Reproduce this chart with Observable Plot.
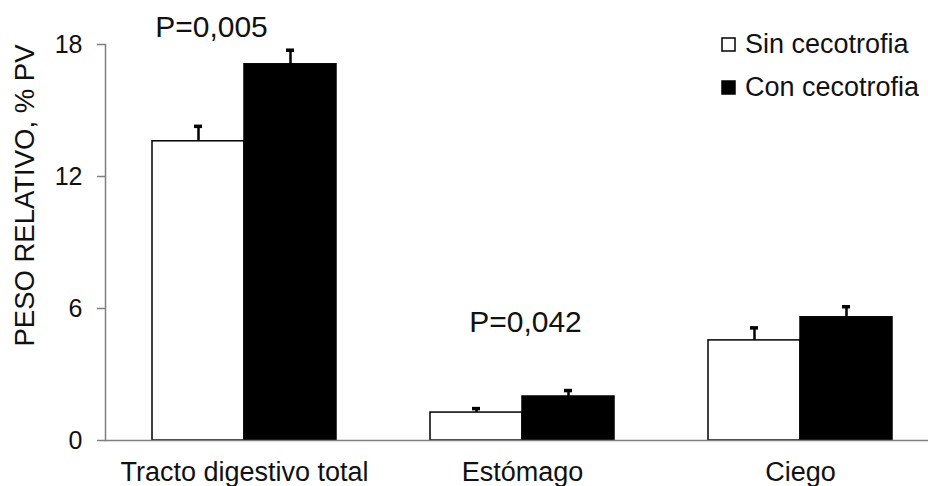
<!DOCTYPE html>
<html><head><meta charset="utf-8">
<script src="https://cdn.jsdelivr.net/npm/d3@7"></script>
<script src="https://cdn.jsdelivr.net/npm/@observablehq/plot@0.6"></script>
<style>
body{margin:0;background:#fff;}
#wrap{position:relative;width:928px;height:486px;overflow:hidden;font-family:"Liberation Sans",Arial,sans-serif;}
#legend{position:absolute;left:722px;top:23px;}
.lg-swatches{font-family:"Liberation Sans",Arial,sans-serif !important;font-size:27px !important;color:#111;margin:0 !important;min-height:0 !important;}
.lg-swatch{height:43px;display:flex;align-items:center;padding:0 !important;}
.lg-swatch svg{margin-right:10px !important;overflow:visible;}
.lg-swatch rect{stroke:#000;stroke-width:1.5px;}
</style></head><body><div id="wrap"></div>
<script>
const categories = ["Tracto digestivo total", "Estómago", "Ciego"];
const series = ["Sin cecotrofia", "Con cecotrofia"];
const sinValues = [13.6, 1.27, 4.55];
const conValues = [17.1, 2.0, 5.6];
const sinErrors = [0.68, 0.18, 0.57];
const conErrors = [0.64, 0.27, 0.48];
const yTicks = [0, 6, 12, 18];
const yLabel = "PESO RELATIVO, % PV";
const pLabels = ["P=0,005", "P=0,042"];
const pCategories = ["Tracto digestivo total", "Estómago"];
const pY = [18.33, 4.91];
const seriesColors = ["#ffffff", "#000000"];

const data = [];
categories.forEach((c, i) => {
  data.push({category: c, series: series[0], value: sinValues[i], err: sinErrors[i]});
  data.push({category: c, series: series[1], value: conValues[i], err: conErrors[i]});
});
const pData = pLabels.map((label, i) => ({label, category: pCategories[i], y: pY[i]}));

const gray = "#7f7f7f";
const ink = "#111";

const chart = Plot.plot({
  width: 928,
  height: 486,
  marginLeft: 105,
  marginRight: 0,
  marginTop: 44,
  marginBottom: 46,
  style: {fontFamily: '"Liberation Sans", Arial, sans-serif', background: "#fff", overflow: "visible"},
  fx: {domain: categories, range: [105, 939], padding: 0, label: null},
  x: {domain: series, paddingInner: 0, paddingOuter: 0.495, align: 0.5, axis: null},
  y: {domain: [0, 18], label: null},
  color: {type: "ordinal", domain: series, range: seriesColors},
  marks: [
    Plot.barY(data, {fx: "category", x: "series", y: "value", fill: "series", stroke: "#000", strokeWidth: 1.5}),
    Plot.ruleX(data, {fx: "category", x: "series", y1: "value", y2: d => d.value + d.err, stroke: "#000", strokeWidth: 2.5}),
    Plot.tickY(data, {fx: "category", x: "series", y: d => d.value + d.err, stroke: "#000", strokeWidth: 3.5, insetLeft: 42, insetRight: 42}),
    Plot.ruleY([0], {stroke: gray, strokeWidth: 1.5}),
    Plot.frame({anchor: "left", facetAnchor: "left", stroke: gray, strokeWidth: 1.5}),
    Plot.axisY(yTicks, {tickSize: 8, tickPadding: 15, fontSize: 25, stroke: gray, strokeWidth: 1.5, fill: ink, label: null}),
    Plot.axisFx({anchor: "bottom", tickSize: 0, tickPadding: 21, fontSize: 27, fill: ink, label: null}),
    Plot.text([yLabel], {frameAnchor: "left", textAnchor: "middle", rotate: -90, dx: -80, dy: -47, fontSize: 27.5, fill: ink, facetAnchor: "left"}),
    Plot.text(pData.slice(0, 1), {fx: "category", y: "y", text: "label", lineAnchor: "bottom", dx: -33, fontSize: 30, fill: ink}),
    Plot.text(pData.slice(1), {fx: "category", y: "y", text: "label", lineAnchor: "bottom", dx: 3, fontSize: 30, fill: ink})
  ]
});
const wrap = document.getElementById("wrap");
wrap.appendChild(chart);
const legend = Plot.legend({color: {type: "ordinal", domain: series, range: seriesColors}, columns: 1, swatchSize: 13, className: "lg"});
legend.id = "legend";
wrap.appendChild(legend);
</script></body></html>
